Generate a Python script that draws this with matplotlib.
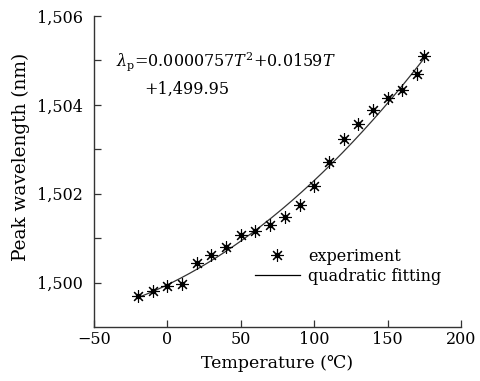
import matplotlib
matplotlib.use('Agg')
import matplotlib.pyplot as plt
import numpy as np
from matplotlib.ticker import FuncFormatter

# measured peak wavelength vs temperature
temperature = [-20, -10, 0, 10, 20, 30, 40, 50, 60, 70, 80, 90, 100,
               110, 120, 130, 140, 150, 160, 170, 175]
wavelength = [1499.69, 1499.82, 1499.93, 1499.96, 1500.45, 1500.61, 1500.79,
              1501.06, 1501.17, 1501.30, 1501.48, 1501.75, 1502.18,
              1502.72, 1503.24, 1503.57, 1503.89, 1504.16, 1504.34,
              1504.70, 1505.10]

# quadratic fit coefficients (from the equation on the chart)
fit_coef = [0.0000757, 0.0159, 1499.95]
fit_range = (-20, 175)


def main():
    plt.rcParams['font.family'] = ['DejaVu Serif']
    plt.rcParams['mathtext.fontset'] = 'dejavuserif'
    plt.rcParams['font.size'] = 11.5

    fig = plt.figure(figsize=(4.81, 3.81), dpi=100)
    ax = fig.add_axes([0.1954, 0.1417, 0.7630, 0.8163])

    t_fit = np.linspace(fit_range[0], fit_range[1], 200)
    ax.plot(t_fit, np.polyval(fit_coef, t_fit), color='#333333', lw=0.9)

    pts = ax.plot(temperature, wavelength, ls='none', marker=(8, 2, 0),
                  ms=9, mew=0.8, color='black')[0]
    dots = ax.plot(temperature, wavelength, ls='none', marker='o',
                   ms=3, color='black')[0]

    ax.set_xlim(-50, 200)
    ax.set_ylim(1499, 1506)
    ax.set_xticks([-50, 0, 50, 100, 150, 200])
    ax.set_yticks(range(1500, 1507))
    ax.yaxis.set_major_formatter(FuncFormatter(
        lambda v, p: f'{v:,.0f}' if round(v) % 2 == 0 else ''))
    ax.xaxis.set_major_formatter(FuncFormatter(
        lambda v, p: f'{v:.0f}'.replace('-', '\u2212')))
    ax.tick_params(direction='in', length=5, width=0.9, color='#333333',
                   labelsize=11.5)
    ax.tick_params(axis='x', pad=3)
    ax.tick_params(axis='y', pad=8)
    for side in ['top', 'right']:
        ax.spines[side].set_visible(False)
    for side in ['left', 'bottom']:
        ax.spines[side].set_linewidth(1.0)
        ax.spines[side].set_color('#333333')

    ax.set_xlabel('Temperature (\u2103)', fontsize=12.5, labelpad=5)
    ax.set_ylabel('Peak wavelength (nm)', fontsize=13.3)
    ax.yaxis.set_label_coords(-0.174, 0.547)

    ax.text(-35, 1504.86, r'$\lambda_{\rm p}$=0.0000757$T^2$+0.0159$T$',
            fontsize=11.5, va='baseline')
    ax.text(-16, 1504.25, '+1,499.95', fontsize=11.5, va='baseline')

    line_handle = plt.Line2D([], [], color='black', lw=0.9)
    ax.legend([(pts, dots), line_handle], ['experiment', 'quadratic fitting'],
              loc='upper left', bbox_to_anchor=(0.439, 0.255), frameon=False,
              fontsize=11.5, handlelength=2.8, handletextpad=0.5,
              labelspacing=0.2, borderpad=0, borderaxespad=0)

    fig.savefig('out.png', dpi=100)


if __name__ == '__main__':
    main()
